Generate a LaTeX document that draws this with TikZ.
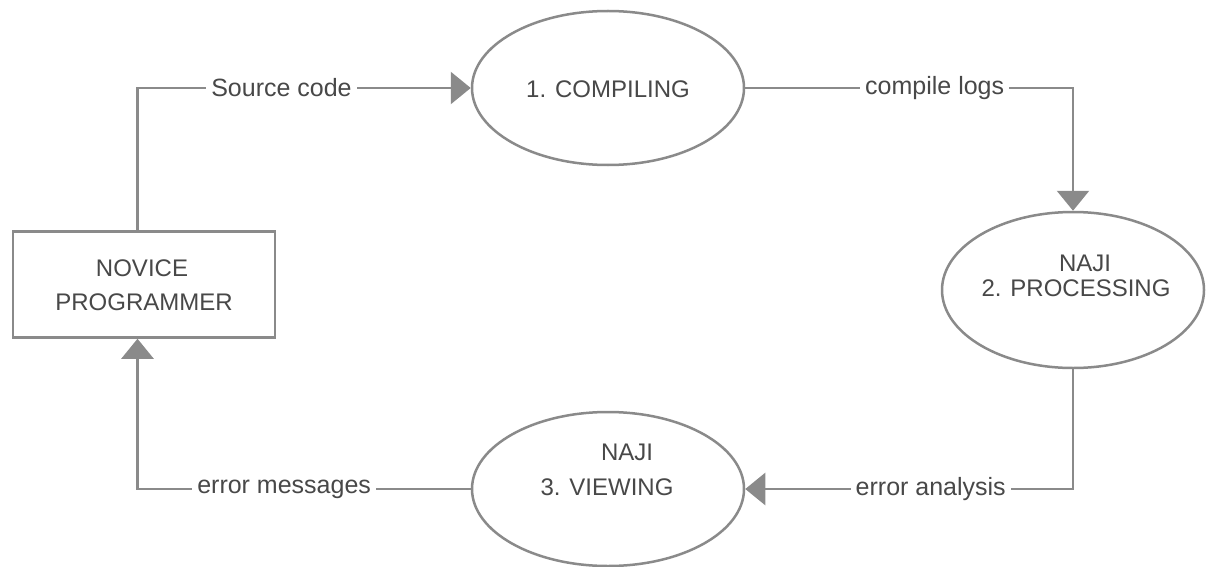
\documentclass[tikz,border=0pt]{standalone}
\usepackage{fontspec}
\setmainfont{Liberation Sans}
\usetikzlibrary{shapes.geometric,arrows.meta}
\definecolor{linegray}{RGB}{138,138,138}
\definecolor{textgray}{RGB}{72,72,72}
\begin{document}
\begin{tikzpicture}[x=1pt,y=-1pt,
  every node/.style={text=textgray},
  proc/.style={draw=linegray,line width=2.5pt,ellipse,inner sep=0pt,fill=white},
  entity/.style={draw=linegray,line width=2.5pt,rectangle,inner sep=0pt,fill=white},
  conn/.style={draw=linegray,line width=2.5pt},
  arr/.style={conn,-{Triangle[length=20pt,width=32pt]},color=linegray},
  nodetext/.style={font=\fontsize{24}{28}\selectfont,inner sep=0pt},
  lbl/.style={font=\fontsize{25}{29}\selectfont,fill=white,inner sep=5pt}]
\useasboundingbox (0,0) rectangle (1217,567);
% shapes
\node[entity,minimum width=262pt,minimum height=106pt] (box) at (144,284.5) {};
\node[proc,minimum width=272pt,minimum height=154pt] (e1) at (608,88) {};
\node[proc,minimum width=262pt,minimum height=156pt] (e2) at (1073,290) {};
\node[proc,minimum width=272pt,minimum height=154pt] (e3) at (608,489) {};
% texts
\node[nodetext] (t1) at (142,268) {NOVICE};
\node[nodetext] (t2) at (144,302) {PROGRAMMER};
\node[nodetext] (t3) at (608,89) {1. COMPILING};
\node[nodetext] (t4) at (1085,263) {NAJI};
\node[nodetext] (t5) at (1076,288) {2. PROCESSING};
\node[nodetext] (t6) at (627,452) {NAJI};
\node[nodetext] (t7) at (607,487) {3. VIEWING};
% connectors
\draw[arr] ([xshift=-6.5pt]box.north) |- node[lbl,pos=0.716] (l1) {Source code} (e1.west);
\draw[arr] (e1.east) -| node[lbl,pos=0.289] (l2) {compile logs} (e2.north);
\draw[arr] (e2.south) |- node[lbl,pos=0.717] (l3) {error analysis} (e3.east);
\draw[arr] (e3.west) -| node[lbl,pos=0.28] (l4) {error messages} ([xshift=-6.5pt]box.south);
\end{tikzpicture}
\end{document}
